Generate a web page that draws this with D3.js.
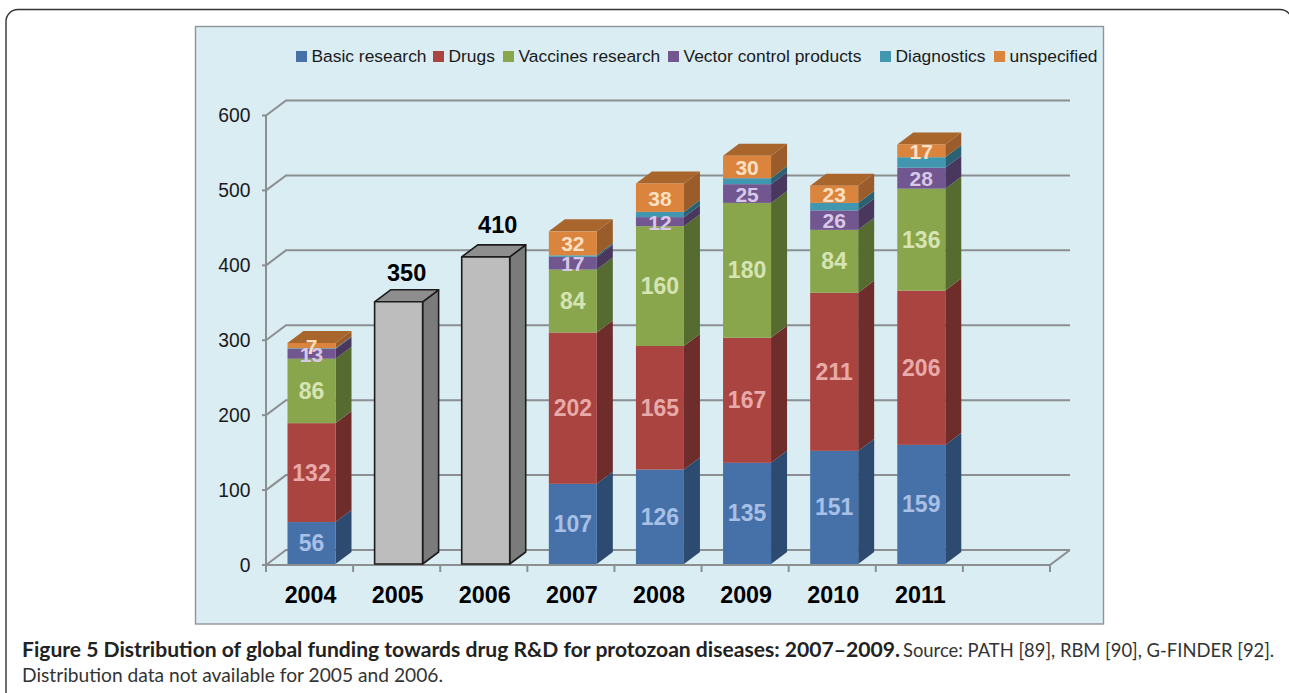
<!DOCTYPE html>
<html>
<head>
<meta charset="utf-8">
<script src="https://cdn.jsdelivr.net/npm/d3@7"></script>
<style>
html, body { margin: 0; padding: 0; background: #fff; overflow: hidden; }
svg { display: block; }
</style>
</head>
<body>
<div id="figure"></div>
<script>
// Data. Diagnostics carries no printed label, so it is estimated.
const years = ['2004', '2005', '2006', '2007', '2008', '2009', '2010', '2011', ''];
const seriesNames = ['Basic research', 'Drugs', 'Vaccines research', 'Vector control products', 'Diagnostics', 'unspecified'];
const seriesColors = ['#4571a8', '#aa4441', '#8aa64c', '#71568f', '#4197b0', '#db843d'];
const sideColors = ['#2d4a70', '#6e2c2a', '#566b30', '#49375d', '#2a6273', '#995c2a'];
const topColor = '#a8652c';
const labelColors = ['#a8bfe6', '#e8aaa8', '#d6e4b4', '#d8c8e8', '#fff', '#fbe0c4'];
const labelSizes = [23, 23, 23, 21, 21, 21];
const basicResearch = [56, 0, 0, 107, 126, 135, 151, 159, 0];
const drugs = [132, 0, 0, 202, 165, 167, 211, 206, 0];
const vaccines = [86, 0, 0, 84, 160, 180, 84, 136, 0];
const vectorControl = [13, 0, 0, 17, 12, 25, 26, 28, 0];
const diagnostics = [1, 0, 0, 2, 7, 8, 10, 14, 0];
const unspecified = [7, 0, 0, 32, 38, 30, 23, 17, 0];
const totalsOnly = [0, 350, 410, 0, 0, 0, 0, 0, 0];
const totalLabelDx = [0, 8, 12, 0, 0, 0, 0, 0, 0];
const totalLabelDy = [0, -22, -25, 0, 0, 0, 0, 0, 0];
const yTicks = [0, 100, 200, 300, 400, 500, 600];
const unlabelled = ['Diagnostics'];

const width = 1289, height = 693;
const chart = { left: 266, right: 1050, top: 115.5, bottom: 565 };
const depth = { x: 20, y: -15 };
const barDepth = { x: 16, y: -12 };

const xScale = d3.scaleBand().domain(d3.range(years.length)).range([chart.left, chart.right]).paddingInner(0).paddingOuter(0);
const yScale = d3.scaleLinear().domain([0, 600]).range([chart.bottom, chart.top]);
const barWidth = 48;
const barLeft = i => xScale(i) + 21.5;

const svg = d3.select('#figure').append('svg').attr('width', width).attr('height', height);

// Outer frame and panel
svg.append('rect').attr('x', 6).attr('y', 9.5).attr('width', 1286).attr('height', 760).attr('rx', 12)
    .attr('fill', 'none').attr('stroke', '#333').attr('stroke-width', 1.4);
svg.append('rect').attr('x', 195.5).attr('y', 26.5).attr('width', 908).attr('height', 597.5)
    .attr('fill', '#daedf3').attr('stroke', '#8f9497').attr('stroke-width', 1.4);

// Legend
const legendX = [296, 433, 503, 668, 880, 994];
const legendTextFont = 'Liberation Sans, Arial, sans-serif';
const legend = svg.append('g');
seriesNames.forEach((name, i) => {
    legend.append('rect').attr('x', legendX[i]).attr('y', 51).attr('width', 11).attr('height', 11).attr('fill', seriesColors[i]);
    legend.append('text').attr('x', legendX[i] + 15.5).attr('y', 61.7).text(name)
        .attr('font-family', legendTextFont).attr('font-size', 17.4).attr('fill', '#1a1a1a');
});

// Walls and gridlines
const grid = svg.append('g').attr('fill', 'none').attr('stroke', '#8c8f91').attr('stroke-width', 2);
yTicks.forEach(t => {
    grid.append('path').attr('d', d3.line()([
        [chart.left, yScale(t)],
        [chart.left + depth.x, yScale(t) + depth.y],
        [chart.right + depth.x, yScale(t) + depth.y]
    ]));
    grid.append('line').attr('x1', chart.left - 4).attr('x2', chart.left).attr('y1', yScale(t)).attr('y2', yScale(t));
});
grid.append('line').attr('x1', chart.left).attr('x2', chart.left).attr('y1', yScale(600)).attr('y2', chart.bottom + 7);
grid.append('line').attr('x1', chart.left).attr('x2', chart.right).attr('y1', chart.bottom).attr('y2', chart.bottom);
grid.append('line').attr('x1', chart.right).attr('x2', chart.right + depth.x).attr('y1', chart.bottom).attr('y2', chart.bottom + depth.y);
d3.range(1, years.length + 1).forEach(i => {
    const x = chart.left + xScale.step() * i;
    grid.append('line').attr('x1', x).attr('x2', x).attr('y1', chart.bottom).attr('y2', chart.bottom + 7);
});

// Axis labels
svg.append('g').selectAll('text').data(yTicks).join('text')
    .attr('x', chart.left - 15.5).attr('y', d => yScale(d) + 6.8).attr('text-anchor', 'end')
    .attr('font-family', legendTextFont).attr('font-size', 19.3).attr('fill', '#1a1a1a').text(d => d);
svg.append('g').selectAll('text').data(years).join('text')
    .attr('x', (d, i) => xScale(i) + xScale.bandwidth() / 2 + 1).attr('y', 602.7).attr('text-anchor', 'middle')
    .attr('font-family', legendTextFont).attr('font-size', 23.3).attr('font-weight', 'bold').attr('fill', '#000').text(d => d);

const bars = svg.append('g').attr('transform', 'translate(0,-1)');

function drawBlock(i, y0, y1, front, side, top, stroke) {
    const l = barLeft(i), r = l + barWidth;
    const g = bars.append('g').attr('stroke', stroke || 'none').attr('stroke-width', stroke ? 1.6 : 0).attr('stroke-linejoin', 'round');
    g.append('path').attr('fill', side).attr('d', d3.line()([
        [r, yScale(y0)], [r + barDepth.x, yScale(y0) + barDepth.y], [r + barDepth.x, yScale(y1) + barDepth.y], [r, yScale(y1)]
    ]) + 'Z');
    if (top) g.append('path').attr('fill', top).attr('d', d3.line()([
        [l, yScale(y1)], [l + barDepth.x, yScale(y1) + barDepth.y], [r + barDepth.x, yScale(y1) + barDepth.y], [r, yScale(y1)]
    ]) + 'Z');
    g.append('rect').attr('x', l).attr('y', yScale(y1)).attr('width', barWidth).attr('height', yScale(y0) - yScale(y1)).attr('fill', front);
}

// Stacked bars
const seriesValues = [basicResearch, drugs, vaccines, vectorControl, diagnostics, unspecified];
const stack = d3.stack().keys(d3.range(seriesValues.length)).value((d, k) => seriesValues[k][d]);
const layers = stack(d3.range(years.length));
const labels = [];
layers.forEach((layer, k) => {
    layer.forEach((d, i) => {
        if (d[1] === d[0]) return;
        const isTop = k === seriesValues.length - 1;
        drawBlock(i, d[0], d[1], seriesColors[k], sideColors[k], isTop ? topColor : null);
        if (!unlabelled.includes(seriesNames[k])) labels.push({ i, k, y: (d[0] + d[1]) / 2, v: seriesValues[k][i] });
    });
});
labels.forEach(d => {
    svg.append('text').attr('x', barLeft(d.i) + barWidth / 2).attr('y', yScale(d.y) + 7).attr('text-anchor', 'middle')
        .attr('font-family', legendTextFont).attr('font-size', labelSizes[d.k]).attr('font-weight', 'bold')
        .attr('fill', labelColors[d.k]).text(d.v);
});

// 2005 and 2006 totals
totalsOnly.forEach((v, i) => {
    if (!v) return;
    drawBlock(i, 0, v, '#bdbdbd', '#7b7b7b', '#8e8e8e', '#1c1c1c');
    svg.append('text').attr('x', barLeft(i) + barWidth / 2 + totalLabelDx[i]).attr('y', yScale(v) + totalLabelDy[i]).attr('text-anchor', 'middle')
        .attr('font-family', legendTextFont).attr('font-size', 23.5).attr('font-weight', 'bold').attr('fill', '#000').text(v);
});

// Caption
const captionFont = 'Lato, "Noto Sans", sans-serif';
svg.append('text').attr('x', 22).attr('y', 656.5).attr('font-family', captionFont).attr('font-size', 21.1)
    .attr('font-weight', 'bold').attr('fill', '#222')
    .text('Figure 5 Distribution of global funding towards drug R&D for protozoan diseases: 2007\u20132009.');
svg.append('text').attr('x', 903).attr('y', 656.5).attr('font-family', captionFont).attr('font-size', 18.4).attr('fill', '#333')
    .text('Source: PATH [89], RBM [90], G-FINDER [92].');
svg.append('text').attr('x', 22).attr('y', 681.5).attr('font-family', captionFont).attr('font-size', 19.2).attr('fill', '#333')
    .text('Distribution data not available for 2005 and 2006.');
</script>
</body>
</html>
